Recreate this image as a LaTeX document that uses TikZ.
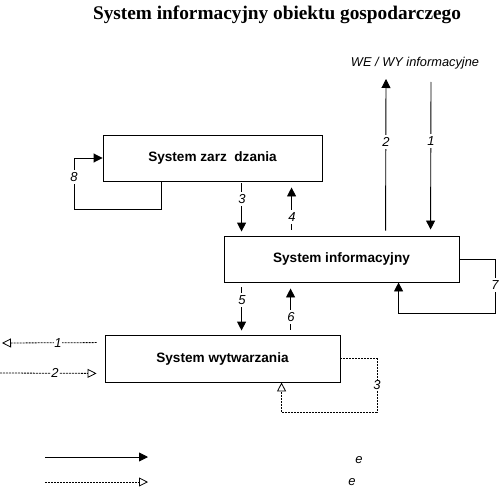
\documentclass[tikz,border=0pt]{standalone}
\usepackage{fontspec}
\setmainfont{Liberation Sans}
\newfontfamily\titlefont{Liberation Serif}
\usetikzlibrary{arrows.meta}
\begin{document}
\begin{tikzpicture}[x=1pt,y=-1pt,
  box/.style={draw,line width=0.9pt,rectangle,inner sep=0pt,minimum width=219pt,minimum height=46pt,font=\fontsize{13.6}{16}\selectfont\bfseries},
  flow/.style={line width=0.9pt,-{Triangle[length=9pt,width=9pt]}},
  dflow/.style={line width=0.8pt,dash pattern=on 2pt off 1pt,-{Triangle[open,length=9pt,width=9pt,line width=0.8pt]}},
  lab/.style={fill=white,inner xsep=1.5pt,inner ysep=2.5pt,font=\fontsize{13}{15}\selectfont\itshape},
  dlab/.style={fill=white,inner sep=0.8pt,font=\fontsize{13}{15}\selectfont\itshape}]
\useasboundingbox (0,0) rectangle (500,492);
\node[font=\titlefont\fontsize{19.3}{22}\selectfont\bfseries] (title) at (277,15) {System informacyjny obiektu gospodarczego};
\node[font=\fontsize{12.8}{15}\selectfont\itshape] (wewy) at (415,63) {WE / WY informacyjne};
\node[box,minimum width=219pt] (b1) at (212.5,158) {System zarz\ \ dzania};
\node[box,minimum width=235pt] (b2) at (341.5,259) {System informacyjny};
\node[box,minimum width=235pt,minimum height=47pt] (b3) at (222.5,358.5) {System wytwarzania};
\coordinate (out2) at (386,79);
\coordinate (in1) at (431,82);
\coordinate (c8) at (74,209);
\coordinate (c7) at (495,313);
\coordinate (c3) at (377,412);
\coordinate (l1) at (2,343);
\coordinate (l2) at (0,373);
\coordinate (ls1) at (45,457);
\coordinate (le1) at (148,457);
\coordinate (ls2) at (45,482);
\coordinate (le2) at (148,482);
% loop 8
\draw[flow] ([xshift=59pt]b1.south west) |- (c8) |- (b1.west);
\node[lab] (n8) at (74,177) {8};
% 3 and 4
\draw[flow,shorten <=2pt,shorten >=4pt] ([xshift=139pt]b1.south west) -- ([xshift=18pt]b2.north west);
\node[lab] (n3) at (242,199) {3};
\draw[flow,shorten <=6pt,shorten >=6pt] ([xshift=68pt]b2.north west) -- ([xshift=189pt]b1.south west);
\node[lab] (n4) at (292,217) {4};
% 2 and 1
\draw[flow,shorten <=5pt] ([xshift=162pt]b2.north west) -- (out2);
\node[lab] (n2) at (386,142) {2};
\draw[flow,shorten >=6pt] (in1) -- ([xshift=207pt]b2.north west);
\node[lab] (n1) at (431,141) {1};
% loop 7
\draw[flow] (b2.east) -| (c7) -| ([xshift=175pt]b2.south west);
\node[lab] (n7) at (495,285) {7};
% 5 and 6
\draw[flow,shorten <=5pt,shorten >=4pt] ([xshift=18pt]b2.south west) -- ([xshift=137pt]b3.north west);
\node[lab] (n5) at (242,300) {5};
\draw[flow,shorten <=5pt,shorten >=6pt] ([xshift=186pt]b3.north west) -- ([xshift=67pt]b2.south west);
\node[lab] (n6) at (291,317) {6};
% dotted left
\draw[dflow,shorten <=8pt] ([yshift=-8pt]b3.north west) -- (l1);
\node[dlab] (d1) at (58,343) {1};
\draw[dflow,shorten >=8pt] (l2) -- ([yshift=9pt]b3.south west);
\node[dlab] (d2) at (55,373) {2};
% dotted loop 3
\draw[dflow] (b3.east) -| (c3) -| ([xshift=177pt]b3.south west);
\node[dlab] (d3) at (377,385) {3};
% legend
\draw[flow] (ls1) -- (le1);
\draw[dflow] (ls2) -- (le2);
\node[font=\fontsize{13}{15}\selectfont\itshape] (e1) at (359,460) {e};
\node[font=\fontsize{13}{15}\selectfont\itshape] (e2) at (352,482) {e};
\end{tikzpicture}
\end{document}
